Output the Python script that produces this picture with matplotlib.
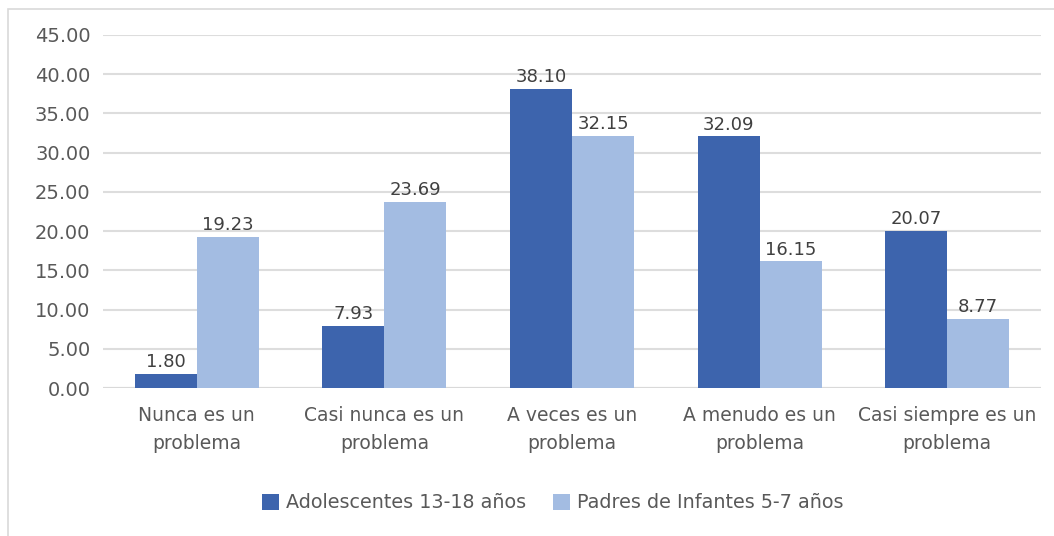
import matplotlib.pyplot as plt
import numpy as np
from matplotlib.patches import Rectangle

categories = ["Nunca es un\nproblema", "Casi nunca es un\nproblema", "A veces es un\nproblema",
              "A menudo es un\nproblema", "Casi siempre es un\nproblema"]
adolescentes = [1.80, 7.93, 38.10, 32.09, 20.07]
padres = [19.23, 23.69, 32.15, 16.15, 8.77]
series_names = ["Adolescentes 13-18 años", "Padres de Infantes 5-7 años"]

plt.rcParams['font.family'] = ['DejaVu Sans']
text_col = '#595959'
fs = 13.5

fig = plt.figure(figsize=(10.54, 5.36), dpi=100)
ax = fig.add_axes([103/1054, 1 - 388/536, (1041 - 103)/1054, (388 - 35)/536])

x = np.arange(len(categories))
w = 0.331
b1 = ax.bar(x - w/2, adolescentes, w, color='#3D64AD', label=series_names[0], zorder=3)
b2 = ax.bar(x + w/2, padres, w, color='#A3BCE2', label=series_names[1], zorder=3)

for bars, vals in ((b1, adolescentes), (b2, padres)):
    for rect, v in zip(bars, vals):
        ax.text(rect.get_x() + rect.get_width()/2, v + 0.35, f"{v:.2f}",
                ha='center', va='bottom', fontsize=13, color='#404040')

ax.set_xlim(-0.5, len(categories) - 0.5)
ax.set_ylim(0, 45)
ax.set_yticks(np.arange(0, 46, 5))
ax.set_yticklabels([f"{t:.2f}" for t in np.arange(0, 46, 5)])
ax.set_xticks(x)
ax.set_xticklabels(categories, linespacing=1.6)
ax.tick_params(axis='both', length=0, labelsize=fs, colors=text_col)
ax.tick_params(axis='y', labelsize=14, pad=9)
ax.tick_params(axis='x', pad=13)
ax.grid(axis='y', color='#DDDDDD', linewidth=1.5, zorder=0)
for s in ax.spines.values():
    s.set_visible(False)
ax.axhline(0, color='#D9D9D9', linewidth=1.5, zorder=2)

leg = fig.legend(handles=[b1, b2], loc='center', bbox_to_anchor=(553/1054, 1 - 503/536),
                 ncol=2, frameon=False, fontsize=13.8, handlelength=0.85, handleheight=0.85,
                 handletextpad=0.4, columnspacing=1.4)
for t in leg.get_texts():
    t.set_color(text_col)

fig.patches.append(Rectangle((8/1054, -0.01), 1.1, 1 - 9/536 + 0.01, transform=fig.transFigure,
                             fill=False, edgecolor='#D9D9D9', linewidth=1.2))

fig.savefig('out.png', dpi=100)
